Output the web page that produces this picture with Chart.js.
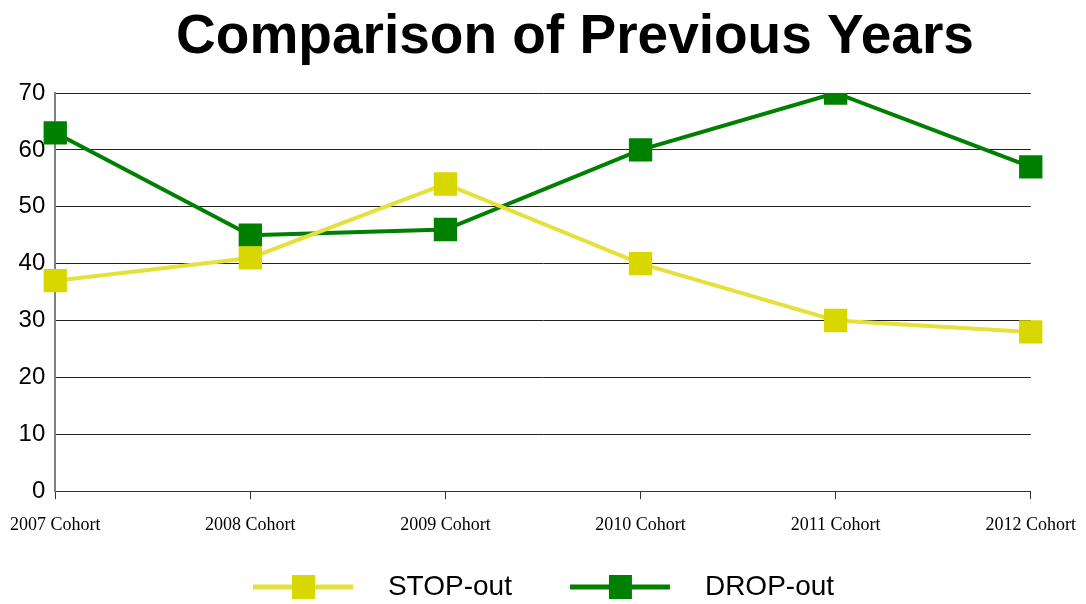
<!DOCTYPE html>
<html>
<head>
<meta charset="utf-8">
<script src="https://cdn.jsdelivr.net/npm/chart.js@4/dist/chart.umd.min.js"></script>
<style>
  html, body { margin: 0; padding: 0; background: #fff; }
  #wrap { width: 1086px; height: 604px; }
</style>
</head>
<body>
<div id="wrap"><canvas id="cohortChart"></canvas></div>
<script>
// chart data
const cohorts = ['2007 Cohort', '2008 Cohort', '2009 Cohort', '2010 Cohort', '2011 Cohort', '2012 Cohort'];
const stopOut = [37, 41, 54, 40, 30, 28];
const dropOut = [63, 45, 46, 60, 70, 57];
const titleText = 'Comparison of Previous Years';

// legend symbol: a line with a square in the middle (36px blank lead-in = gap between items)
function legendSymbol(lineColor, boxColor) {
    const c = document.createElement('canvas');
    c.width = 157;
    c.height = 26;
    const g = c.getContext('2d');
    g.strokeStyle = lineColor;
    g.lineWidth = 5;
    g.beginPath();
    g.moveTo(36, 13);
    g.lineTo(136, 13);
    g.stroke();
    g.fillStyle = boxColor;
    g.fillRect(75, 1, 23, 24);
    return c;
}

const stopIcon = legendSymbol('#e6e03c', '#d8d800');
const dropIcon = legendSymbol('#008000', '#008000');

// title drawn a bit right of centre, like the original
const titlePlugin = {
    id: 'offsetTitle',
    afterDraw(chart) {
        const ctx = chart.ctx;
        ctx.save();
        ctx.font = 'bold 55px "Liberation Sans", Arial, sans-serif';
        ctx.fillStyle = '#000';
        ctx.textAlign = 'center';
        ctx.textBaseline = 'alphabetic';
        ctx.fillText(titleText, 575, 53);
        ctx.restore();
    }
};

const chartEl = document.getElementById('cohortChart');

new Chart(chartEl, {
    type: 'line',
    data: {
        labels: cohorts,
        datasets: [
            {
                label: 'STOP-out',
                data: stopOut,
                borderColor: '#e6e03c',
                backgroundColor: '#d8d800',
                pointBackgroundColor: '#d8d800',
                pointBorderWidth: 0,
                borderWidth: 4,
                pointStyle: 'rect',
                pointRadius: 16.5,
                pointHoverRadius: 16.5,
                tension: 0,
                fill: false
            },
            {
                label: 'DROP-out',
                data: dropOut,
                borderColor: '#008000',
                backgroundColor: '#008000',
                pointBackgroundColor: '#008000',
                pointBorderWidth: 0,
                borderWidth: 4,
                pointStyle: 'rect',
                pointRadius: 16.5,
                pointHoverRadius: 16.5,
                tension: 0,
                fill: false
            }
        ]
    },
    options: {
        responsive: true,
        maintainAspectRatio: false,
        animation: false,
        layout: {
            // right padding only nudges the legend, the last x label already needs more
            padding: { top: 93, left: 5, right: 40, bottom: -7 }
        },
        plugins: {
            title: { display: false },
            tooltip: { enabled: false },
            legend: {
                position: 'bottom',
                labels: {
                    usePointStyle: true,
                    pointStyleWidth: 157,
                    padding: 22,
                    color: '#000',
                    font: { family: '"Liberation Sans", Arial, sans-serif', size: 28 },
                    generateLabels(chart) {
                        return chart.data.datasets.map((ds, i) => ({
                            text: ds.label,
                            pointStyle: i === 0 ? stopIcon : dropIcon,
                            fillStyle: ds.backgroundColor,
                            strokeStyle: ds.borderColor,
                            lineWidth: 0,
                            hidden: false,
                            datasetIndex: i
                        }));
                    }
                }
            }
        },
        scales: {
            x: {
                offset: false,
                grid: {
                    drawOnChartArea: false,
                    drawTicks: true,
                    tickLength: 8,
                    color: '#333'
                },
                border: { color: '#333', width: 1 },
                ticks: {
                    color: '#000',
                    maxRotation: 0,
                    padding: 10,
                    font: { family: '"Liberation Serif", "Times New Roman", serif', size: 18, lineHeight: 1.77 }
                }
            },
            y: {
                min: 0,
                max: 70,
                grid: {
                    color: '#222',
                    drawTicks: false
                },
                border: { color: '#808080', width: 2 },
                ticks: {
                    stepSize: 10,
                    color: '#000',
                    padding: 10,
                    font: { family: '"Liberation Sans", Arial, sans-serif', size: 24 }
                }
            }
        }
    },
    plugins: [titlePlugin]
});
</script>
</body>
</html>
